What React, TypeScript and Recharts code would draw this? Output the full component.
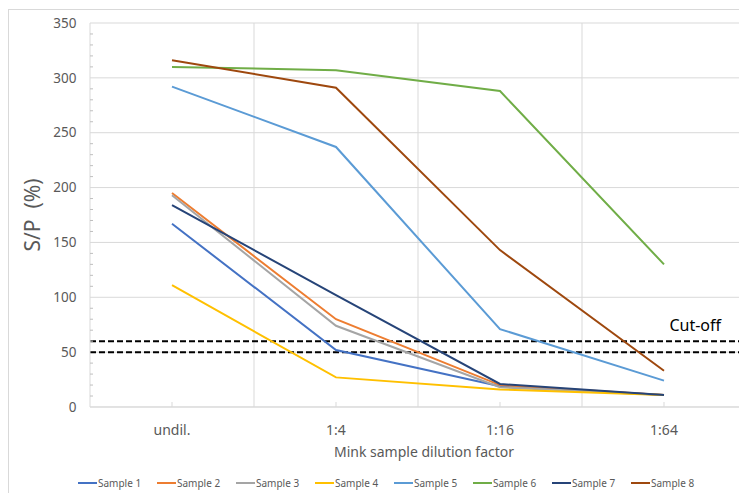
import React from "react";
import { LineChart, Line, XAxis, YAxis, CartesianGrid, ReferenceLine, Legend } from "recharts";

const categories = ["undil.", "1:4", "1:16", "1:64"];
const seriesNames = ["Sample 1", "Sample 2", "Sample 3", "Sample 4", "Sample 5", "Sample 6", "Sample 7", "Sample 8"];
const seriesColors = ["#4472C4", "#ED7D31", "#A5A5A5", "#FFC000", "#5B9BD5", "#70AD47", "#264478", "#9E480E"];
const sample1 = [167, 52, 19, 11];
const sample2 = [195, 80, 20, 11];
const sample3 = [193, 74, 18, 11];
const sample4 = [111, 27, 16, 11];
const sample5 = [292, 237, 71, 24];
const sample6 = [310, 307, 288, 130];
const sample7 = [184, 102, 21, 11];
const sample8 = [316, 291, 143, 33];
const seriesValues = [sample1, sample2, sample3, sample4, sample5, sample6, sample7, sample8];
const cutoffs = [60, 50];
const cutoffLabel = "Cut-off";
const yMajorTicks = [0, 50, 100, 150, 200, 250, 300, 350];
const yMinorStep = 10;
const yTitle = "S/P  (%)";
const xTitle = "Mink sample dilution factor";

const data = categories.map((c, i) => {
  const row: any = { pos: i + 0.5, cat: c };
  seriesNames.forEach((n, k) => {
    row[n] = seriesValues[k][i];
  });
  return row;
});

const yAllTicks: number[] = [];
for (let v = 0; v <= 350; v += yMinorStep) yAllTicks.push(v);
const xCenterTicks = categories.map((_, i) => i + 0.5);
const xBoundaries = categories.slice(1).map((_, i) => i + 1);

const FONT = "'Noto Sans', sans-serif";
const GRID = "#d9d9d9";
const TEXT = "#595959";

const XTick = (props: any) => {
  const { x, y, payload } = props;
  const idx = Math.round(payload.value - 0.5);
  return (
    <g>
      <line x1={x} x2={x} y1={y} y2={y - 5} stroke={GRID} strokeWidth={1} />
      <text x={x} y={y + 27.5} textAnchor="middle" fontSize={14} fontFamily={FONT} fill={TEXT}>
        {categories[idx]}
      </text>
    </g>
  );
};

const YTick = (props: any) => {
  const { x, y, payload } = props;
  const v = payload.value;
  if (yMajorTicks.includes(v)) {
    return (
      <text x={x - 13.5} y={y} dy="0.35em" textAnchor="end" fontSize={13.5} fontFamily={FONT} fill={TEXT}>
        {v}
      </text>
    );
  }
  return <line x1={x} x2={x + 3} y1={y} y2={y} stroke="#bfbfbf" strokeWidth={1} />;
};

const LegendContent = () => (
  <div style={{ height: 16, display: "flex", alignItems: "center", paddingLeft: 69, fontFamily: FONT, fontSize: 10, color: TEXT }}>
    {seriesNames.map((n, k) => (
      <div key={n} style={{ width: 79, display: "flex", alignItems: "center", whiteSpace: "nowrap" }}>
        <span style={{ display: "inline-block", width: 19, height: 2, background: seriesColors[k], marginRight: 1 }} />
        <span>{n}</span>
      </div>
    ))}
  </div>
);

export default function App() {
  return (
    <div style={{ position: "relative", top: 1, width: 738, borderTop: `1px solid ${GRID}`, borderLeft: `1px solid ${GRID}` }}>
      <LineChart width={737} height={484} data={data} margin={{ top: 13, right: 0, left: 0, bottom: 3 }}>
        <CartesianGrid stroke={GRID} horizontalValues={yMajorTicks} verticalValues={xBoundaries} />
        <XAxis
          dataKey="pos"
          type="number"
          domain={[0, categories.length]}
          ticks={xCenterTicks}
          interval={0}
          height={68}
          tickSize={0}
          tickMargin={0}
          tickLine={false}
          stroke={GRID}
          tick={<XTick />}
          label={(p: any) => {
            const vb = p.viewBox;
            return (
              <text x={vb.x + vb.width / 2 + 6} y={vb.y + 49.5} textAnchor="middle" fontSize={14} fontFamily={FONT} fill={TEXT}>
                {xTitle}
              </text>
            );
          }}
        />
        <YAxis
          type="number"
          domain={[0, 350]}
          ticks={yAllTicks}
          interval={0}
          width={81}
          tickSize={0}
          tickMargin={0}
          tickLine={false}
          stroke={GRID}
          tick={<YTick />}
          label={(p: any) => {
            const vb = p.viewBox;
            const cx = vb.x + 24;
            const cy = vb.y + vb.height / 2;
            return (
              <text
                x={cx}
                y={cy}
                dy="0.35em"
                textAnchor="middle"
                transform={`rotate(-90, ${cx}, ${cy})`}
                fontSize={21}
                fontFamily={FONT}
                fill={TEXT}
                style={{ whiteSpace: "pre" }}
              >
                {yTitle}
              </text>
            );
          }}
        />
        {cutoffs.map((c, i) => (
          <ReferenceLine
            key={c}
            y={c}
            stroke="#000"
            strokeWidth={2}
            strokeDasharray="6 3"
            label={
              i === 0
                ? (p: any) => {
                    const vb = p.viewBox;
                    return (
                      <text x={vb.x + vb.width - 25} y={vb.y - 10} textAnchor="end" fontSize={16} fontFamily={FONT} fill="#000">
                        {cutoffLabel}
                      </text>
                    );
                  }
                : undefined
            }
          />
        ))}
        {seriesNames.map((n, k) => (
          <Line
            key={n}
            dataKey={n}
            stroke={seriesColors[k]}
            strokeWidth={2}
            dot={false}
            type="linear"
            isAnimationActive={false}
          />
        ))}
        <Legend verticalAlign="bottom" content={<LegendContent />} />
      </LineChart>
    </div>
  );
}
